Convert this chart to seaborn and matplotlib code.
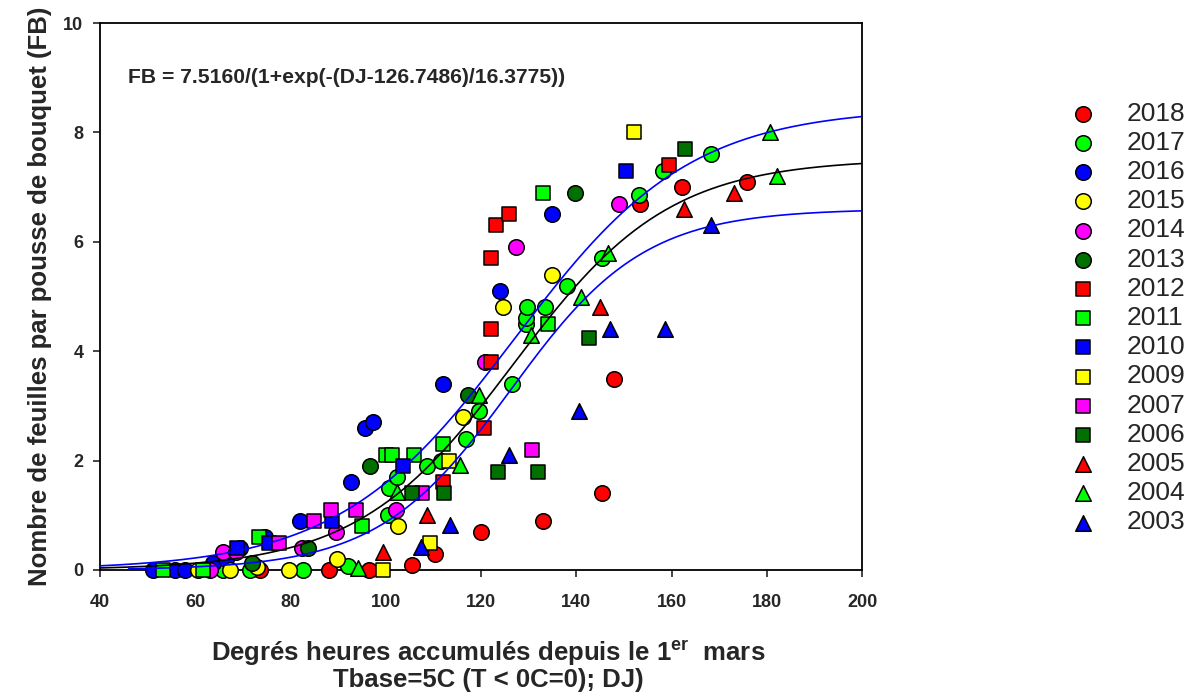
import numpy as np
import pandas as pd
import matplotlib
matplotlib.use("Agg")
import matplotlib.pyplot as plt
import seaborn as sns

# ---------------- data ----------------
years = ["2018", "2017", "2016", "2015", "2014", "2013", "2012", "2011",
         "2010", "2009", "2007", "2006", "2005", "2004", "2003"]

dj_2018 = [73.5, 88.0, 96.5, 105.5, 110.3, 120.1, 133.1, 145.5, 147.9, 153.4, 162.3, 175.8]
fb_2018 = [0.0, 0.0, 0.0, 0.1, 0.3, 0.7, 0.9, 1.4, 3.5, 6.7, 7.0, 7.1]

dj_2017 = [65.8, 71.5, 82.6, 92.1, 100.5, 100.7, 102.4, 108.6, 111.5, 116.9, 119.6,
           126.6, 129.4, 129.4, 129.7, 133.4, 138.0, 145.5, 153.2, 158.2, 168.2]
fb_2017 = [0.0, 0.0, 0.0, 0.08, 1.0, 1.5, 1.7, 1.9, 2.0, 2.4, 2.9,
           3.4, 4.5, 4.6, 4.8, 4.8, 5.2, 5.7, 6.85, 7.3, 7.6]

dj_2016 = [51.2, 55.8, 57.9, 63.7, 66.5, 69.3, 74.6, 82.0, 92.8, 95.6, 97.3, 112.0, 124.0, 135.0]
fb_2016 = [0.0, 0.0, 0.0, 0.13, 0.2, 0.4, 0.6, 0.9, 1.6, 2.6, 2.7, 3.4, 5.1, 6.5]

dj_2015 = [60.5, 67.4, 72.9, 79.7, 89.8, 102.5, 116.3, 124.7, 135.0]
fb_2015 = [0.0, 0.0, 0.05, 0.0, 0.2, 0.8, 2.8, 4.8, 5.4]

dj_2014 = [63.1, 65.9, 68.6, 82.4, 89.6, 102.2, 120.8, 127.3, 149.0]
fb_2014 = [0.0, 0.32, 0.32, 0.4, 0.7, 1.1, 3.8, 5.9, 6.7]

dj_2013 = [71.9, 83.7, 96.7, 117.3, 139.7]
fb_2013 = [0.12, 0.4, 1.9, 3.2, 6.9]

dj_2012 = [112.0, 120.7, 122.0, 122.0, 122.0, 123.2, 125.9, 159.5]
fb_2012 = [1.6, 2.6, 3.8, 4.4, 5.7, 6.3, 6.5, 7.4]

dj_2011 = [53.2, 61.6, 73.4, 95.0, 100.1, 101.3, 106.0, 112.0, 133.1, 134.1]
fb_2011 = [0.0, 0.0, 0.6, 0.8, 2.1, 2.1, 2.1, 2.3, 6.9, 4.5]

dj_2010 = [68.8, 75.5, 88.7, 103.7, 150.4]
fb_2010 = [0.4, 0.5, 0.9, 1.9, 7.3]

dj_2009 = [99.5, 109.3, 113.3, 152.1]
fb_2009 = [0.0, 0.5, 2.0, 8.0]

dj_2007 = [77.6, 85.0, 88.4, 93.8, 107.7, 130.8]
fb_2007 = [0.5, 0.9, 1.1, 1.1, 1.4, 2.2]

dj_2006 = [105.6, 112.2, 123.5, 131.9, 142.7, 162.8]
fb_2006 = [1.4, 1.4, 1.8, 1.8, 4.25, 7.7]

dj_2005 = [99.4, 108.6, 145.0, 162.6, 173.1]
fb_2005 = [0.33, 1.0, 4.8, 6.6, 6.9]

dj_2004 = [94.2, 102.4, 115.6, 119.6, 130.6, 141.1, 146.7, 180.7, 182.1]
fb_2004 = [0.03, 1.43, 1.92, 3.2, 4.3, 5.0, 5.8, 8.0, 7.2]

dj_2003 = [107.4, 113.4, 125.9, 140.5, 147.1, 158.6, 168.2]
fb_2003 = [0.42, 0.82, 2.1, 2.9, 4.4, 4.4, 6.3]

# fitted logistic model (from the equation in the chart) and its bands
fit_a, fit_x0, fit_s = 7.5160, 126.7486, 16.3775
upper_a, upper_x0, upper_s = 8.45, 127.0, 18.5
lower_a, lower_x0, lower_s = 6.6, 126.3, 14.0

xticks = [40, 60, 80, 100, 120, 140, 160, 180, 200]
yticks = [0, 2, 4, 6, 8, 10]

series = {
    "2018": (dj_2018, fb_2018), "2017": (dj_2017, fb_2017), "2016": (dj_2016, fb_2016),
    "2015": (dj_2015, fb_2015), "2014": (dj_2014, fb_2014), "2013": (dj_2013, fb_2013),
    "2012": (dj_2012, fb_2012), "2011": (dj_2011, fb_2011), "2010": (dj_2010, fb_2010),
    "2009": (dj_2009, fb_2009), "2007": (dj_2007, fb_2007), "2006": (dj_2006, fb_2006),
    "2005": (dj_2005, fb_2005), "2004": (dj_2004, fb_2004), "2003": (dj_2003, fb_2003),
}

# ---------------- styles ----------------
RED, GREEN, BLUE, YELLOW, MAGENTA, DKGREEN = "#ff0000", "#00ff00", "#0000ff", "#ffff00", "#ff00ff", "#007000"
colors = [RED, GREEN, BLUE, YELLOW, MAGENTA, DKGREEN,
          RED, GREEN, BLUE, YELLOW, MAGENTA, DKGREEN,
          RED, GREEN, BLUE]
markers = ["o"] * 6 + ["s"] * 6 + ["^"] * 3
sizes = {"o": 125, "s": 96, "^": 125}

sns.set_style("ticks")
plt.rcParams["font.family"] = ["Liberation Sans", "DejaVu Sans"]
plt.rcParams["mathtext.fontset"] = "custom"
plt.rcParams["mathtext.rm"] = "Liberation Sans"
plt.rcParams["mathtext.bf"] = "Liberation Sans:bold"

fig = plt.figure(figsize=(11.93, 6.93), dpi=100)
ax = fig.add_axes([100 / 1193, 1 - 570 / 693, 762 / 1193, 547 / 693])

rows = []
for y in years:
    for dj, fb in zip(*series[y]):
        rows.append({"year": y, "DJ": dj, "FB": fb})
df = pd.DataFrame(rows)

for i, y in enumerate(years):
    sub = df[df["year"] == y]
    sns.scatterplot(data=sub, x="DJ", y="FB", ax=ax, color=colors[i], marker=markers[i],
                    s=sizes[markers[i]], edgecolor="black", linewidth=1.1,
                    label=y, zorder=3 + i * 0.01, clip_on=False)

x = np.linspace(40, 200, 400)
xl = np.linspace(46, 200, 400)
fit = fit_a / (1 + np.exp(-(x - fit_x0) / fit_s))
up = upper_a / (1 + np.exp(-(x - upper_x0) / upper_s))
lo = lower_a / (1 + np.exp(-(xl - lower_x0) / lower_s))
sns.lineplot(x=x, y=fit, ax=ax, color="black", linewidth=1.2, zorder=5, legend=False)
sns.lineplot(x=x, y=up, ax=ax, color="#0000ff", linewidth=1.2, zorder=5, legend=False)
sns.lineplot(x=xl, y=lo, ax=ax, color="#0000ff", linewidth=1.2, zorder=5, legend=False)

ax.set_xlim(40, 200)
ax.set_ylim(0, 10)
ax.set_xticks(xticks)
ax.set_yticks(yticks)
ax.tick_params(axis="both", direction="out", length=5, width=1.2, labelsize=13)
ax.tick_params(axis="x", pad=12)
ax.tick_params(axis="y", pad=7)
for lab in ax.get_xticklabels() + ax.get_yticklabels():
    lab.set_fontweight("bold")
for sp in ax.spines.values():
    sp.set_visible(True)
    sp.set_linewidth(1.3)
    sp.set_color("black")

ax.set_ylabel("Nombre de feuilles par pousse de bouquet (FB)", fontsize=18.5, fontweight="bold")
ax.yaxis.set_label_coords(-0.063, 0.5)
ax.set_xlabel("Degrés heures accumulés depuis le 1$^{\\mathbf{er}}$  mars\nTbase=5C (T < 0C=0); DJ)",
              fontsize=18.5, fontweight="bold", linespacing=1.0)
ax.xaxis.set_label_coords(0.51, -0.125)

ax.text(45.9, 9.0, "FB = 7.5160/(1+exp(-(DJ-126.7486)/16.3775))", fontsize=15.2,
        fontweight="bold", va="center", ha="left")

leg = ax.legend(loc="center left", bbox_to_anchor=(0.888, 0.541), bbox_transform=fig.transFigure,
                frameon=False, fontsize=19, handlelength=1.0, handletextpad=1.15,
                labelspacing=0.197, borderaxespad=0)

fig.savefig("out.png", dpi=100)
